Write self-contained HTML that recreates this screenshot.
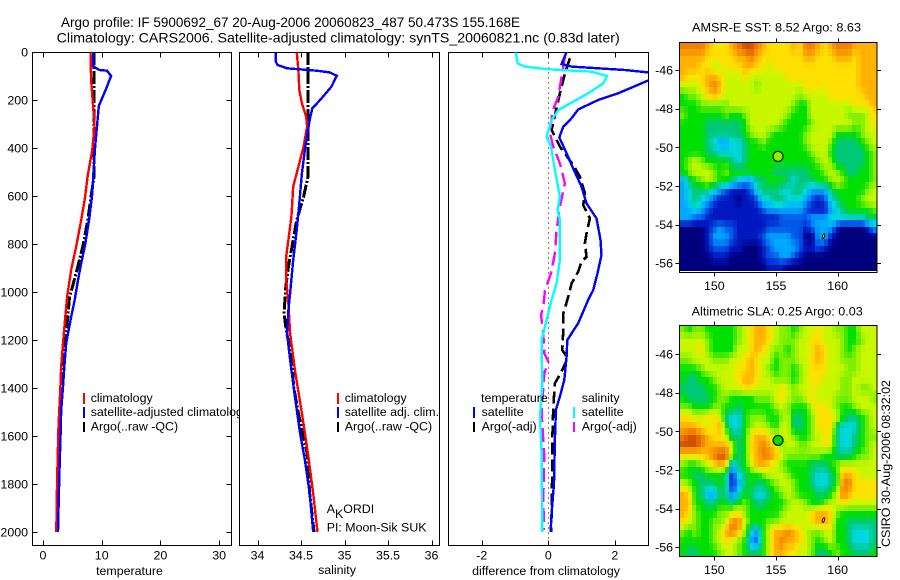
<!DOCTYPE html>
<html>
<head>
<meta charset="utf-8">
<title>Argo profile</title>
<style>
html,body{margin:0;padding:0;background:#fff;}
svg{display:block;}
text{font-family:"Liberation Sans",sans-serif;font-size:12.4px;fill:#000;}
</style>
</head>
<body>
<svg id="chart" xmlns="http://www.w3.org/2000/svg" width="900" height="580" viewBox="0 0 900 580">
<defs>
<clipPath id="clip-p1"><rect x="32.5" y="52.5" width="199" height="493"/></clipPath>
<clipPath id="clip-p2"><rect x="239.5" y="52.5" width="200" height="493"/></clipPath>
<clipPath id="clip-p3"><rect x="448.5" y="52.5" width="200" height="493"/></clipPath>
</defs>
<rect x="0" y="0" width="900" height="580" fill="#fff"/>
<text x="61" y="27" style="font-size:14px" textLength="459" lengthAdjust="spacingAndGlyphs">Argo profile: IF 5900692_67 20-Aug-2006 20060823_487 50.473S 155.168E</text>
<text x="56.7" y="42.5" style="font-size:14px" textLength="563" lengthAdjust="spacingAndGlyphs">Climatology: CARS2006. Satellite-adjusted climatology: synTS_20060821.nc (0.83d later)</text>

<g id="p1">
<rect x="32.5" y="52.5" width="199" height="493" fill="#fff" stroke="#000"/>
<g id="p1-marks" clip-path="url(#clip-p1)"></g>
<g id="p1-ticks"></g>
<rect x="83" y="393" width="2" height="11" fill="#f00"/>
<rect x="83" y="407" width="2" height="11" fill="#00f"/>
<rect x="83" y="422" width="2" height="10" fill="#000"/>
<text x="90.7" y="402">climatology</text>
<text x="90.7" y="416">satellite-adjusted climatology</text>
<text x="90.7" y="430.5">Argo(..raw -QC)</text>
<text x="129.5" y="575" text-anchor="middle">temperature</text>
</g>

<g id="p2">
<rect x="239.5" y="52.5" width="200" height="493" fill="#fff" stroke="#000"/>
<g id="p2-marks" clip-path="url(#clip-p2)"></g>
<g id="p2-ticks"></g>
<rect x="337" y="393" width="2" height="11" fill="#f00"/>
<rect x="337" y="407" width="2" height="11" fill="#00f"/>
<rect x="337" y="422" width="2" height="10" fill="#000"/>
<text x="344.7" y="402">climatology</text>
<text x="344.7" y="416">satellite adj. clim.</text>
<text x="344.7" y="430.5">Argo(..raw -QC)</text>
<text x="326.7" y="513">A<tspan dy="5">K</tspan><tspan dy="-5">ORDI</tspan></text>
<text x="326.7" y="531.7">PI: Moon-Sik SUK</text>
<text x="337" y="574" text-anchor="middle">salinity</text>
</g>

<g id="p3">
<rect x="448.5" y="52.5" width="200" height="493" fill="#fff" stroke="#000"/>
<g id="p3-marks" clip-path="url(#clip-p3)"></g>
<g id="p3-ticks"></g>
<text x="481" y="402">temperature</text>
<text x="481.6" y="416">satellite</text>
<text x="481.6" y="430.5">Argo(-adj)</text>
<text x="581.7" y="402">salinity</text>
<text x="581.7" y="416">satellite</text>
<text x="581.7" y="430.5">Argo(-adj)</text>
<rect x="473" y="407" width="2" height="11" fill="#00f"/>
<rect x="473" y="422" width="2" height="10" fill="#000"/>
<rect x="573" y="407" width="2" height="11" fill="#0ff"/>
<rect x="573" y="422" width="2" height="10" fill="#f0f"/>
<text x="546" y="575" text-anchor="middle">difference from climatology</text>
</g>

<g id="m1">
<text x="692" y="31.5" textLength="169" lengthAdjust="spacingAndGlyphs">AMSR-E SST: 8.52 Argo: 8.63</text>
<g id="m1-cells"></g>
<rect x="679.5" y="42.5" width="197.5" height="230" fill="none" stroke="#000"/>
<g id="m1-ticks"></g>
</g>

<g id="m2">
<text x="691.7" y="315.7" textLength="171" lengthAdjust="spacingAndGlyphs">Altimetric SLA: 0.25 Argo: 0.03</text>
<g id="m2-cells"></g>
<rect x="679.5" y="325.5" width="197.5" height="231" fill="none" stroke="#000"/>
<g id="m2-ticks"></g>
</g>

<text transform="translate(890,547) rotate(-90)" textLength="167" lengthAdjust="spacingAndGlyphs">CSIRO 30-Aug-2006 08:32:02</text>
</svg>

<script>
// ---- depth axis ----
const depthTicks = [0,200,400,600,800,1000,1200,1400,1600,1800,2000];
const tempTicks = [0,10,20,30];
const salTicks = [34,34.5,35,35.5,36];
const salTickLabels = ['34','34.5','35','35.5','36'];
const diffTicks = [-2,0,2];
const lonTicks = [150,155,160];
const latTicks = [-46,-48,-50,-52,-54,-56];

// ---- temperature panel ----
const tempSatDepth = [0,60,75,78,100,150,185,225,310,390,500,590,690,800,880,960,1033,1103,1214,1297,1394,1492,1589,1728,1853,2000];
const tempSatValue = [8.55,8.55,9.6,10.9,11.6,10.8,10.2,9.5,9.2,8.9,8.6,8.4,7.9,7.2,6.5,5.9,5.4,4.8,3.96,3.68,3.4,3.1,3.0,2.83,2.7,2.55];
const tempClimDepth = [0,115,247,310,407,518,615,700,810,907,1018,1103,1214,1311,1408,1547,1686,1811,2000];
const tempClimValue = [8.1,8.2,8.6,8.77,8.4,7.6,7.1,6.5,5.66,4.8,4.13,3.8,3.4,3.1,2.94,2.66,2.5,2.38,2.26];
const tempArgoDepth = [0,200,337,518,600,700,810,893,962,1025,1103,1214,1381,1519,1728,2000];
const tempArgoValue = [8.66,8.66,8.7,8.7,8.2,7.64,6.8,5.94,5.2,4.5,4.24,3.68,3.2,2.83,2.6,2.38];

// ---- salinity panel ----
const salSatDepth = [0,40,54,68,78,85,99,144,200,235,283,325,394,506,631,742,867,1006,1075,1172,1283,1436,1589,1700,1839,2000];
const salSatValue = [34.21,34.21,34.23,34.34,34.68,34.83,34.91,34.85,34.72,34.63,34.6,34.58,34.55,34.51,34.48,34.45,34.41,34.375,34.355,34.34,34.375,34.43,34.49,34.545,34.6,34.64];
const salClimDepth = [0,75,158,214,269,311,394,478,561,686,783,853,950,1047,1172,1325,1505,1686,1853,2000];
const salClimValue = [34.45,34.47,34.48,34.51,34.56,34.57,34.53,34.47,34.41,34.39,34.355,34.33,34.33,34.355,34.375,34.43,34.51,34.585,34.645,34.69];
const salArgoDepth = [0,367,519,603,700,825,894,978,1061,1089,1158,1283,1394,1505,1672,1839,2000];
const salArgoValue = [34.58,34.58,34.58,34.53,34.45,34.39,34.355,34.325,34.31,34.305,34.33,34.395,34.415,34.47,34.57,34.6,34.65];

// ---- difference panel ----
const diffTempSatDepth = [0,50,61,75,85,100,119,172,200,239,276,311,356,422,471,561,631,693,783,846,922,992,1033,1130,1200,1269,1366,1436,1491,1616,1797,1922,2000];
const diffTempSatValue = [0.55,0.4,0.7,2.3,3.0,3.4,3.0,2.1,1.5,0.9,0.7,0.45,0.33,0.55,0.7,1.0,1.15,1.45,1.57,1.6,1.48,1.35,1.2,0.9,0.57,0.55,0.48,0.35,0.23,0.2,0.17,0.1,0.07];
const diffSalSatDepth = [0,47,61,72,82,100,131,172,207,242,283,353,394,492,603,658,700,867,964,1033,1117,1200,1381,1519,1672,2000];
const diffSalSatValue = [-0.98,-0.92,-0.7,0,1.3,1.77,1.65,1.2,0.75,0.3,0.1,-0.05,0.08,0.2,0.35,0.28,0.35,0.35,0.25,0.1,-0.05,-0.2,-0.18,-0.25,-0.2,-0.18];
const diffTempArgoDepth = [26,89,172,325,394,471,519,589,638,693,756,797,853,874,915,964,1019,1068,1089,1158,1242,1276,1331,1381,1478,1616,1728,1922,2000];
const diffTempArgoValue = [0.65,0.5,0.35,0.1,0.35,0.75,0.95,1.1,1.05,1.25,1.15,1.1,1.15,1.0,0.9,0.7,0.6,0.5,0.45,0.45,0.42,0.58,0.4,0.2,0.15,0.12,0.12,0.1,0.08];
const diffSalArgoDepth = [19,103,186,249,339,394,464,547,644,742,839,922,992,1061,1096,1172,1255,1290,1339,1505,1686,1866,1991];
const diffSalArgoValue = [0.5,0.4,0.3,0.12,0.05,0.15,0.35,0.5,0.35,0.25,0.2,0.08,-0.1,-0.15,-0.22,-0.15,-0.12,0,-0.12,-0.2,-0.12,-0.15,-0.13];

// ---- map cells (colour class per cell) ----
const sstCells = [
[11,11,11,11,10,9,9,9,10,11,12,12,11,10,9,9,9,9,10,9,11,11,10,9,10,11,11,11,10,10,10,10],
[10,10,10,10,9,9,9,9,9,10,10,11,10,9,9,9,9,9,9,9,10,10,9,9,9,10,10,10,9,10,10,10],
[10,10,10,9,9,8,8,9,9,9,10,10,9,9,8,9,9,9,9,9,9,9,9,9,9,9,9,9,9,10,10,10],
[10,9,9,9,10,10,9,8,8,8,9,8,8,8,8,8,8,9,9,9,9,9,9,9,9,9,9,9,9,10,10,10],
[8,8,8,9,10,11,10,8,8,8,8,8,7,8,8,8,8,8,8,8,9,9,9,9,9,9,9,9,9,10,10,10],
[6,7,7,8,9,10,9,8,8,8,8,8,8,8,8,8,8,8,8,7,8,8,8,8,9,9,9,9,9,9,10,10],
[6,6,6,7,7,7,7,7,8,8,8,8,8,8,8,8,8,8,7,6,6,8,8,8,8,8,8,8,9,9,9,10],
[7,6,6,6,6,6,6,7,6,6,7,8,8,8,8,8,8,7,6,6,6,8,8,8,8,8,8,7,7,7,8,9],
[6,6,6,6,5,5,5,5,5,5,6,8,8,8,8,8,7,6,6,6,6,7,8,8,8,8,8,8,7,7,8,9],
[6,6,6,6,5,5,5,5,5,5,6,7,8,8,7,6,6,6,6,6,7,8,8,8,8,6,6,6,6,7,8,8],
[6,6,6,6,5,4,3,3,4,4,5,6,6,7,6,6,6,6,6,6,7,8,8,8,7,5,5,5,5,6,7,8],
[6,6,6,6,5,5,4,4,4,4,5,6,6,6,6,6,6,6,6,6,6,7,8,8,6,5,5,5,5,5,6,7],
[6,7,8,7,6,6,6,6,5,4,5,6,6,6,6,6,6,6,6,6,6,6,7,8,7,5,5,5,5,5,6,7],
[6,7,8,8,8,7,6,7,6,6,6,6,6,6,6,5,5,5,5,5,5,6,6,7,8,7,6,5,5,6,6,7],
[3,5,6,7,8,7,6,6,5,4,3,3,5,5,6,6,6,5,4,5,5,5,6,6,7,8,7,6,6,6,6,7],
[3,4,5,5,5,4,3,2,1,1,1,2,4,5,5,5,4,4,5,5,4,3,3,3,5,6,6,6,6,6,7,8],
[3,4,5,4,3,2,1,1,1,0,1,1,2,4,4,5,5,4,4,4,3,2,1,2,4,5,6,6,6,7,8,8],
[3,3,4,3,2,1,1,1,1,1,1,1,1,2,3,3,3,3,3,3,2,1,1,1,3,4,5,6,6,6,6,7],
[3,3,2,2,1,1,1,1,1,1,1,1,1,1,1,1,2,2,2,2,2,3,3,3,4,4,4,4,4,4,5,5],
[0,0,0,0,1,2,3,2,2,1,1,1,1,1,2,2,2,2,2,2,1,2,3,3,3,1,0,0,0,0,1,3],
[0,0,0,0,1,3,3,3,2,1,1,1,1,2,3,3,3,3,2,2,0,0,3,3,1,0,0,0,0,0,0,0],
[0,0,0,0,1,2,2,2,1,1,0,0,0,1,2,3,3,3,3,2,1,1,2,1,0,0,0,0,0,0,0,0],
[0,0,0,0,0,1,1,1,0,0,0,0,0,1,2,2,3,3,2,1,0,0,0,0,0,0,0,0,0,0,0,0],
[0,0,0,0,0,0,0,0,0,0,0,0,0,0,1,1,1,0,0,0,0,0,0,0,0,0,0,0,0,0,0,0]
];
const slaCells = [
[7,6,7,7,6,6,6,6,6,7,8,9,10,10,9,8,7,7,6,7,8,8,9,8,8,7,7,6,6,8,8,8],
[8,8,8,8,7,6,6,6,6,7,8,9,10,10,9,8,7,7,7,8,8,9,9,8,8,8,7,6,6,7,8,8],
[8,8,8,9,7,6,6,6,6,8,8,9,10,9,8,7,7,6,7,8,8,9,10,9,8,8,7,6,7,8,8,8],
[7,7,8,8,8,7,7,7,8,8,9,10,9,8,8,6,7,7,7,8,8,9,10,9,8,8,7,7,7,8,8,8],
[6,6,6,7,8,8,8,8,8,9,9,10,9,8,7,6,7,7,6,7,8,9,9,9,8,8,8,7,7,8,8,8],
[6,5,5,6,6,7,8,8,8,9,10,10,9,8,8,7,7,7,6,7,8,9,9,8,8,8,7,7,8,8,8,8],
[5,5,5,5,6,6,7,8,8,8,9,9,8,8,8,8,9,8,7,8,8,9,8,8,8,8,7,7,8,7,7,8],
[6,5,5,5,5,6,7,7,6,6,6,6,7,7,7,8,9,8,7,7,8,9,8,8,8,7,7,7,8,8,8,7],
[7,7,6,6,6,7,7,6,6,5,6,6,6,6,6,7,8,7,6,6,6,8,9,9,8,7,6,6,7,8,8,8],
[9,9,8,8,9,9,8,5,4,4,6,7,7,7,6,6,7,8,5,5,6,7,9,9,9,8,6,5,5,6,7,8],
[10,10,10,9,8,9,10,6,4,4,6,7,8,8,7,6,8,8,5,5,6,7,9,9,9,5,4,4,4,6,7,8],
[11,12,12,11,10,9,9,8,5,5,6,9,10,10,9,8,8,8,7,6,6,7,8,9,8,5,4,4,5,6,7,7],
[12,12,12,11,10,10,10,10,8,5,6,9,10,11,10,9,7,8,8,7,7,8,8,9,8,5,4,4,5,6,7,8],
[9,9,9,9,10,11,12,12,7,5,6,9,10,11,11,10,8,7,7,7,7,7,7,6,6,5,5,5,6,7,7,8],
[7,6,6,7,8,9,10,9,3,5,6,8,10,10,9,8,7,6,6,6,6,5,5,5,6,7,8,8,8,8,8,8],
[6,6,5,5,6,6,6,5,1,4,5,6,6,7,8,8,8,7,6,6,6,5,4,4,5,6,10,10,9,8,8,8],
[8,7,6,5,5,5,6,5,1,3,5,6,5,5,6,7,8,8,7,6,6,5,4,4,5,6,11,11,9,9,9,9],
[10,9,6,5,3,3,5,5,2,4,6,5,4,4,5,6,7,8,7,6,6,6,5,5,6,8,11,10,9,9,9,9],
[10,10,6,6,5,5,6,6,5,6,7,6,5,5,6,6,6,7,8,8,7,6,6,7,8,8,9,8,8,8,8,8],
[10,9,7,6,6,6,7,7,8,9,7,6,6,6,6,6,7,8,8,8,8,9,10,10,9,7,6,6,6,6,6,6],
[9,8,7,6,6,7,7,8,11,11,8,6,6,6,7,7,8,8,8,8,8,9,10,10,9,6,6,5,5,5,5,5],
[7,6,7,6,6,7,8,10,11,10,7,4,3,6,8,10,10,11,10,9,8,7,7,8,8,6,6,5,4,4,4,5],
[6,6,6,6,6,7,8,9,8,7,6,3,2,6,8,10,11,10,10,9,8,7,6,7,8,6,6,5,4,4,4,5],
[6,5,5,6,6,6,7,8,8,7,6,5,5,6,8,10,10,9,9,8,8,7,5,5,6,7,6,6,5,5,5,6]
];
const cellPalette = [[0,0,127],[0,24,192],[0,88,232],[0,168,255],[0,216,224],[0,200,120],[0,224,0],[128,240,0],[200,248,0],[255,224,0],[255,176,0],[240,128,0],[208,80,0]];

// ---- float position ----
const floatLon = [155.168];
const floatLat = [-50.473];
const floatTrackLon = [158.85];
const floatTrackLat = [-54.6];

const NS = 'http://www.w3.org/2000/svg';
function mk(tag, attrs, parent){
  const el = document.createElementNS(NS, tag);
  for (const k in attrs) el.setAttribute(k, attrs[k]);
  parent.appendChild(el);
  return el;
}
function byId(id){ return document.getElementById(id); }

// axis functions
const yDepth = d => 52 + d * 0.24;
const xTemp = t => 43 + t * 5.87;
const xSal = s => 257.5 + (s - 34) * 87;
const xDiff = v => 548.3 + v * 33.25;
const xLon = lon => 776 + (lon - 155) * 12.33;
const yLat1 = lat => 147.3 + (-50 - lat) * 19.3;
const yLat2 = lat => 431.3 + (-50 - lat) * 19.3;

function drawSeries(parent, depths, values, xf, color, width, dash, name){
  const pts = depths.map((d, i) => xf(values[i]).toFixed(1) + ',' + yDepth(d).toFixed(1)).join(' ');
  const line = mk('polyline', {points: pts, fill: 'none', stroke: color, 'stroke-width': width, 'shape-rendering': 'crispEdges'}, parent);
  if (dash) line.setAttribute('stroke-dasharray', dash);
  
  
}

function tickLine(parent, x1, y1, x2, y2){
  const t = mk('line', {x1: x1, y1: y1, x2: x2, y2: y2, stroke: '#000', 'stroke-width': 1, 'shape-rendering': 'crispEdges'}, parent);
  
  
}
function tickText(parent, x, y, anchor, str){
  const t = mk('text', {x: x, y: y, 'text-anchor': anchor}, parent);
  t.textContent = str;
  
  
}

function xAxis(parent, ticks, labels, xf){
  ticks.forEach((v, i) => {
    const x = Math.round(xf(v)) + 0.5;
    tickLine(parent, x, 52.5, x, 57.5);
    tickLine(parent, x, 545.5, x, 540.5);
    tickText(parent, xf(v), 559.5, 'middle', labels[i]);
  });
}

// panel 1
const p1m = byId('p1-marks');
drawSeries(p1m, tempArgoDepth, tempArgoValue, xTemp, '#000', 3, '13 2 2 2', 'temperature-argo-line');
drawSeries(p1m, tempClimDepth, tempClimValue, xTemp, '#f00', 2.4, null, 'temperature-climatology-line');
drawSeries(p1m, tempSatDepth, tempSatValue, xTemp, '#00f', 2.4, null, 'temperature-satellite-line');
const p1t = byId('p1-ticks');
xAxis(p1t, tempTicks, tempTicks.map(String), xTemp);
depthTicks.forEach(d => {
  const y = Math.floor(yDepth(d)) + 0.5;
  tickLine(p1t, 32.5, y, 37.5, y);
  tickLine(p1t, 231.5, y, 226.5, y);
  tickText(p1t, 28, yDepth(d) + 4.5, 'end', String(d));
});

// panel 2
const p2m = byId('p2-marks');
drawSeries(p2m, salArgoDepth, salArgoValue, xSal, '#000', 3, '13 2 2 2', 'salinity-argo-line');
drawSeries(p2m, salClimDepth, salClimValue, xSal, '#f00', 2.4, null, 'salinity-climatology-line');
drawSeries(p2m, salSatDepth, salSatValue, xSal, '#00f', 2.4, null, 'salinity-satellite-line');
xAxis(byId('p2-ticks'), salTicks, salTickLabels, xSal);

// panel 3
const p3m = byId('p3-marks');
const zero = mk('line', {x1: 548.5, y1: 52.5, x2: 548.5, y2: 545, stroke: '#000', 'stroke-width': 1, 'stroke-dasharray': '1 4', 'shape-rendering': 'crispEdges'}, p3m);


drawSeries(p3m, diffTempArgoDepth, diffTempArgoValue, xDiff, '#000', 2.6, '12 5', 'difference-temperature-argo-line');
drawSeries(p3m, diffSalArgoDepth, diffSalArgoValue, xDiff, '#f0f', 2.4, '14 6', 'difference-salinity-argo-line');
drawSeries(p3m, diffTempSatDepth, diffTempSatValue, xDiff, '#00f', 2.4, null, 'difference-temperature-satellite-line');
drawSeries(p3m, diffSalSatDepth, diffSalSatValue, xDiff, '#0ff', 2.4, null, 'difference-salinity-satellite-line');
xAxis(byId('p3-ticks'), diffTicks, diffTicks.map(String), xDiff);

// maps: the grid is painted at the map's native pixel size, shading between stored cells
function levelAt(rows, u, v){
  const nr = rows.length, nc = rows[0].length;
  const fx = Math.max(0, Math.min(nc - 1, u * nc - 0.5));
  const fy = Math.max(0, Math.min(nr - 1, v * nr - 0.5));
  const c0 = Math.floor(fx), r0 = Math.floor(fy);
  const c1 = Math.min(nc - 1, c0 + 1), r1 = Math.min(nr - 1, r0 + 1);
  const tx = fx - c0, ty = fy - r0;
  const top = rows[r0][c0] * (1 - tx) + rows[r0][c1] * tx;
  const bot = rows[r1][c0] * (1 - tx) + rows[r1][c1] * tx;
  return top * (1 - ty) + bot * ty;
}
function levelColor(level){
  const i = Math.max(0, Math.min(cellPalette.length - 2, Math.floor(level)));
  const t = Math.max(0, Math.min(1, level - i));
  const a = cellPalette[i], b = cellPalette[i + 1];
  return 'rgb(' + [0, 1, 2].map(k => Math.round(a[k] + (b[k] - a[k]) * t)).join(',') + ')';
}
function drawCells(parent, rows, left, top, w, h){
  const nx = 48, ny = 36;
  for (let r = 0; r < ny; r++) {
    for (let c = 0; c < nx; c++) {
      const x0 = Math.round(left + c * w / nx), x1 = Math.round(left + (c + 1) * w / nx);
      const y0 = Math.round(top + r * h / ny), y1 = Math.round(top + (r + 1) * h / ny);
      const lvl = levelAt(rows, (c + 0.5) / nx, (r + 0.5) / ny);
      const cell = mk('rect', {x: x0, y: y0, width: x1 - x0, height: y1 - y0, fill: levelColor(lvl), 'shape-rendering': 'crispEdges'}, parent);
      
      
    }
  }
}
function mapAxes(parent, yLat, top, bottom){
  lonTicks.forEach(l => {
    const x = Math.round(xLon(l)) + 0.5;
    tickLine(parent, x, top, x, top - 4);
    tickLine(parent, x, bottom, x, bottom + 4);
    tickText(parent, xLon(l), bottom + 17.5, 'middle', String(l));
  });
  latTicks.forEach(l => {
    const y = Math.round(yLat(l)) + 0.5;
    tickLine(parent, 679.5, y, 675.5, y);
    tickLine(parent, 877, y, 881, y);
    tickText(parent, 673, yLat(l) + 4.5, 'end', String(l));
  });
}
function drawFloat(parent, yLat, fill){
  const c = mk('circle', {cx: xLon(floatLon[0]), cy: yLat(floatLat[0]), r: 5, fill: fill, stroke: '#000', 'stroke-width': 1}, parent);
  
  
  const e = mk('ellipse', {cx: xLon(floatTrackLon[0]), cy: yLat(floatTrackLat[0]), rx: 1, ry: 2.4, fill: '#ffe000', stroke: '#000', 'stroke-width': 0.9, transform: 'rotate(20 ' + xLon(floatTrackLon[0]) + ' ' + yLat(floatTrackLat[0]) + ')'}, parent);
  
  
}
drawCells(byId('m1-cells'), sstCells, 680, 43, 197, 228);
mapAxes(byId('m1-ticks'), yLat1, 42.5, 272.5);
drawFloat(byId('m1-ticks'), yLat1, '#90ee00');
drawCells(byId('m2-cells'), slaCells, 680, 326, 197, 230);
mapAxes(byId('m2-ticks'), yLat2, 325.5, 556.5);
drawFloat(byId('m2-ticks'), yLat2, '#00d800');
</script>
</body>
</html>
